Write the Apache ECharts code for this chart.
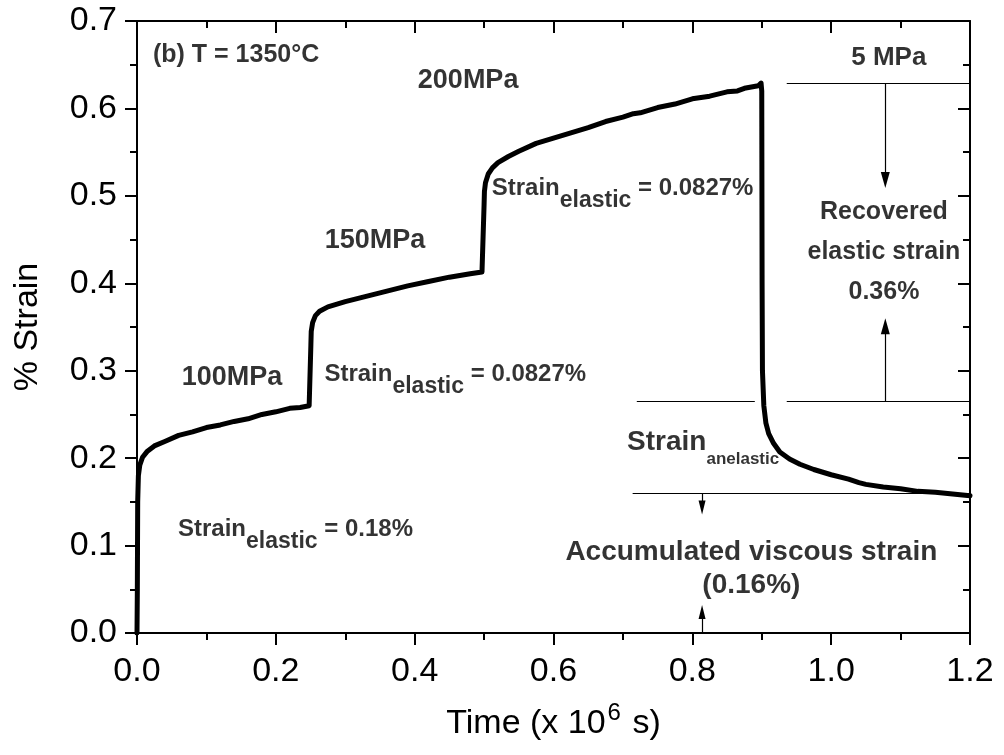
<!DOCTYPE html>
<html>
<head>
<meta charset="utf-8">
<script src="https://cdn.jsdelivr.net/npm/echarts@6/dist/echarts.min.js"></script>
<style>
  html, body { margin: 0; padding: 0; background: #ffffff; }
  #chart { width: 1004px; height: 755px; }
</style>
</head>
<body>
<div id="chart"></div>
<script>
// Creep test at 1350 °C: stepped loading 100 -> 150 -> 200 MPa, then unloading to 5 MPa.
// Time in units of 10^6 s, strain in percent.
const timeData = [
  0, 0.0005, 0.001, 0.002, 0.004, 0.008, 0.015, 0.025, 0.04, 0.06, 0.08, 0.1, 0.12, 0.14, 0.16, 0.18, 0.2, 0.22, 0.235, 0.248,
  0.25, 0.2505, 0.251, 0.253, 0.257, 0.263, 0.275, 0.3, 0.33, 0.36, 0.39, 0.42, 0.45, 0.48, 0.497,
  0.4995, 0.5, 0.5005, 0.502, 0.506, 0.512, 0.52, 0.535, 0.55, 0.575, 0.6, 0.625, 0.65, 0.675, 0.7, 0.715, 0.725, 0.75, 0.775, 0.8, 0.825, 0.85, 0.865, 0.875, 0.895, 0.899,
  0.9, 0.9005, 0.901, 0.903, 0.906, 0.91, 0.917, 0.926, 0.94, 0.955, 0.975, 1.0, 1.025, 1.04, 1.05, 1.075, 1.1, 1.125, 1.15, 1.175, 1.2
];
const strainData = [
  0, 0.05, 0.15, 0.18, 0.192, 0.201, 0.208, 0.214, 0.219, 0.226, 0.230, 0.235, 0.238, 0.242, 0.245, 0.250, 0.253, 0.257, 0.258, 0.260,
  0.262, 0.33, 0.345, 0.355, 0.363, 0.368, 0.373, 0.379, 0.385, 0.391, 0.397, 0.402, 0.407, 0.411, 0.413,
  0.415, 0.49, 0.505, 0.515, 0.525, 0.532, 0.538, 0.545, 0.551, 0.560, 0.566, 0.572, 0.578, 0.585, 0.590, 0.594, 0.595, 0.601, 0.605, 0.611, 0.614, 0.619, 0.620, 0.623, 0.626, 0.629,
  0.62, 0.4, 0.3, 0.26, 0.24, 0.228, 0.217, 0.207, 0.199, 0.193, 0.187, 0.181, 0.176, 0.172, 0.170, 0.167, 0.165, 0.162, 0.161, 0.159, 0.157
];

// Axis ranges and tick spacing
const xRange = [0, 1.2], xStep = 0.2;
const yRange = [0, 0.7], yStep = 0.1;

// Reference levels used for the recovery construction (strain, %)
const levelLoaded = 0.629;      // strain just before unloading
const levelAnelastic = 0.265;   // end of instantaneous recovery
const levelViscous = 0.160;     // remaining (viscous) strain

// Text anchors in data coordinates [time, strain]
const anchorTitle = [0.023, 0.661];
const anchor5 = [1.083, 0.658];
const anchor200 = [0.477, 0.632];
const anchor150 = [0.343, 0.449];
const anchor100 = [0.137, 0.292];
const anchorEl200 = [0.511, 0.508];
const anchorEl150 = [0.27, 0.296];
const anchorEl100 = [0.059, 0.118];
const anchorRecovered = [1.076, 0.436];
const anchorAnelastic = [0.706, 0.218];
const anchorViscous = [0.885, 0.073];

const FONT = "'Liberation Sans', Arial, Helvetica, sans-serif";
const black = '#000000';

const curve = timeData.map((t, i) => [t, strainData[i]]);

function txt(pos, formatter, align, size, rich, lineHeight) {
  return {
    value: pos,
    label: {
      show: true,
      position: 'inside',
      align: align,
      verticalAlign: 'middle',
      formatter: formatter,
      color: black,
      fontFamily: FONT,
      fontWeight: 'bold',
      fontSize: size,
      lineHeight: lineHeight || size + 4,
      rich: rich || {}
    }
  };
}

const subRich = {
  m: { fontFamily: FONT, fontWeight: 'bold', fontSize: 24, color: black },
  s: { fontFamily: FONT, fontWeight: 'bold', fontSize: 23, color: black, padding: [24, 0, 0, 0] }
};
const anelRich = {
  m: { fontFamily: FONT, fontWeight: 'bold', fontSize: 28, color: black },
  s: { fontFamily: FONT, fontWeight: 'bold', fontSize: 17, color: black, padding: [34, 0, 0, 0] }
};

const annotations = [
  txt(anchorTitle, '(b) T = 1350°C', 'left', 25),
  txt(anchor5, '5 MPa', 'center', 26),
  txt(anchor200, '200MPa', 'center', 27),
  txt(anchor150, '150MPa', 'center', 27),
  txt(anchor100, '100MPa', 'center', 27),
  txt(anchorEl200, '{m|Strain}{s|elastic}{m| = 0.0827%}', 'left', 24, subRich),
  txt(anchorEl150, '{m|Strain}{s|elastic}{m| = 0.0827%}', 'left', 24, subRich),
  txt(anchorEl100, '{m|Strain}{s|elastic}{m| = 0.18%}', 'left', 24, subRich),
  txt(anchorRecovered, 'Recovered\nelastic strain\n0.36%', 'center', 25, null, 40),
  txt(anchorAnelastic, '{m|Strain}{s|anelastic}', 'left', 28, anelRich),
  txt(anchorViscous, 'Accumulated viscous strain\n(0.16%)', 'center', 28, null, 33)
];

// Construction lines and arrows (data coordinates)
const tArrowBig = 1.078, tArrowSmall = 0.814;
function seg(a, b, symB, size) {
  return [
    { coord: a, symbol: 'none', symbolSize: 0 },
    { coord: b, symbol: symB || 'none', symbolSize: size || 0 }
  ];
}
const constructionLines = [
  seg([0.936, levelLoaded], [1.2, levelLoaded]),
  seg([0.72, levelAnelastic], [0.89, levelAnelastic]),
  seg([0.936, levelAnelastic], [1.2, levelAnelastic]),
  seg([0.714, levelViscous], [1.2, levelViscous]),
  seg([tArrowBig, levelLoaded], [tArrowBig, 0.518], 'triangle', [9, 16]),
  seg([tArrowBig, levelAnelastic], [tArrowBig, 0.351], 'triangle', [9, 16]),
  seg([tArrowSmall, levelViscous], [tArrowSmall, 0.1435], 'triangle', [7, 14]),
  seg([tArrowSmall, 0], [tArrowSmall, 0.024], 'triangle', [7, 14])
];

const axisLineStyle = { color: black, width: 2 };
function axisCfg(range, step, pos, inside, showLabel, margin) {
  return {
    type: 'value', position: pos, min: range[0], max: range[1], interval: step,
    axisLine: { show: true, onZero: false, lineStyle: axisLineStyle },
    axisTick: { show: true, inside: inside, length: 12, lineStyle: { color: black, width: 2 } },
    minorTick: { show: true, splitNumber: 2, length: 7, lineStyle: { color: black, width: 2 } },
    splitLine: { show: false },
    axisLabel: {
      show: showLabel, margin: margin, color: black, fontFamily: FONT, fontSize: 34,
      formatter: v => v.toFixed(1)
    }
  };
}

const xBottom = axisCfg(xRange, xStep, 'bottom', false, true, 22);
xBottom.name = '{n|Time (x 10}{p|6}{n| s)}';
xBottom.nameLocation = 'middle';
xBottom.nameGap = 68;
xBottom.nameTextStyle = {
  rich: {
    n: { fontFamily: FONT, fontSize: 34, color: black },
    p: { fontFamily: FONT, fontSize: 24, color: black, padding: [0, 2, 22, 2] }
  }
};
const yLeft = axisCfg(yRange, yStep, 'left', false, true, 20);
yLeft.name = '% Strain';
yLeft.nameLocation = 'middle';
yLeft.nameGap = 92;
yLeft.nameTextStyle = { fontFamily: FONT, fontSize: 34, color: black };

const option = {
  animation: false,
  backgroundColor: '#ffffff',
  grid: { left: 137, right: 34, top: 21, bottom: 122, containLabel: false },
  xAxis: [xBottom, axisCfg(xRange, xStep, 'top', true, false, 8)],
  yAxis: [yLeft, axisCfg(yRange, yStep, 'right', true, false, 8)],
  series: [
    {
      type: 'line',
      data: curve,
      xAxisIndex: 0, yAxisIndex: 0,
      showSymbol: false,
      smooth: false,
      lineStyle: { color: black, width: 5, join: 'round', cap: 'round' },
      markLine: {
        silent: true,
        animation: false,
        label: { show: false },
        lineStyle: { color: black, width: 1.2, type: 'solid' },
        itemStyle: { color: black },
        data: constructionLines
      },
      z: 3
    },
    {
      type: 'scatter',
      xAxisIndex: 0, yAxisIndex: 0,
      symbolSize: 1,
      itemStyle: { color: 'rgba(0,0,0,0)' },
      silent: true,
      data: annotations,
      z: 5
    }
  ]
};

const chart = echarts.init(document.getElementById('chart'), null, { renderer: 'canvas' });
chart.setOption(option);
</script>
</body>
</html>
